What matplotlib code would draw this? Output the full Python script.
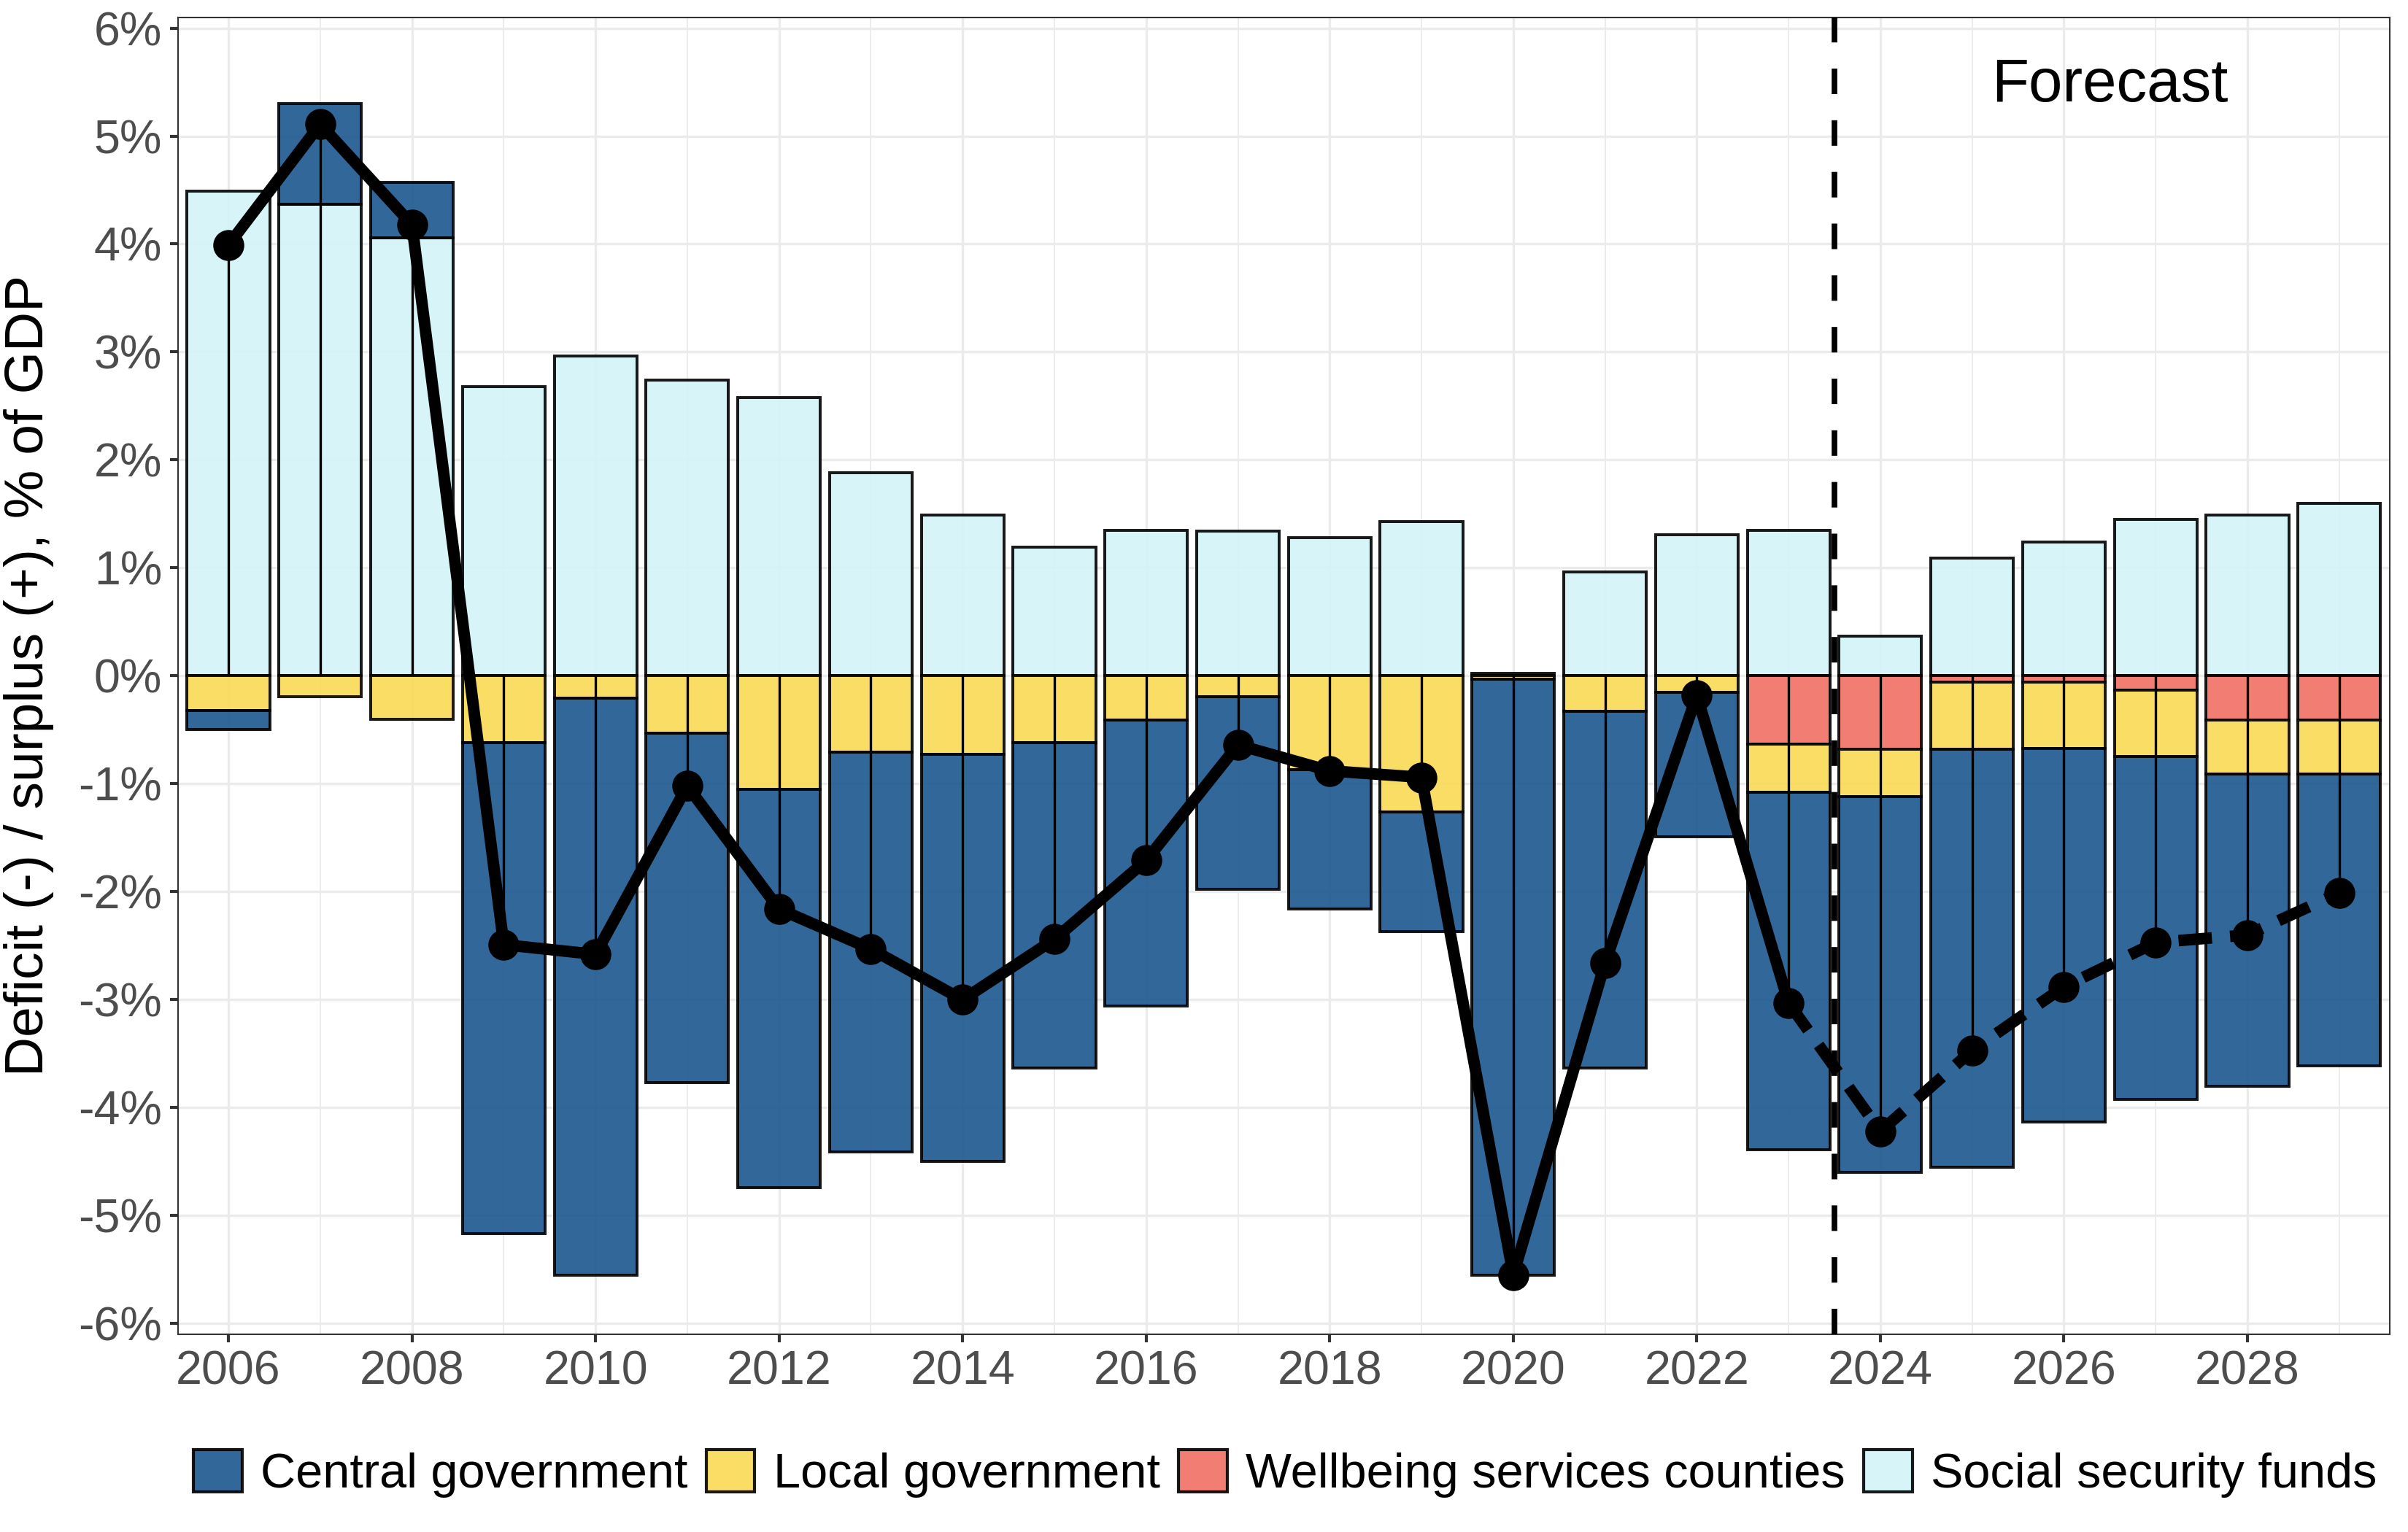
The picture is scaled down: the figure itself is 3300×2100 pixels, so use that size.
import numpy as np
import matplotlib
matplotlib.use("Agg")
import matplotlib.pyplot as plt
from matplotlib.patches import Patch
from matplotlib.ticker import MultipleLocator, FixedLocator

plt.rcParams['font.family'] = ['Liberation Sans', 'DejaVu Sans']
plt.rcParams['lines.scale_dashes'] = False

# data, % of GDP
years = list(range(2006, 2030))
central = [-0.18, 0.93, 0.51, -4.55, -5.34, -3.24, -3.69, -3.70, -3.77, -3.01, -2.65, -1.79,
           -1.29, -1.11, -5.52, -3.30, -1.34, -3.31, -3.48, -3.87, -3.46, -3.17, -2.89, -2.70]
local = [-0.32, -0.19, -0.40, -0.62, -0.21, -0.53, -1.05, -0.71, -0.73, -0.62, -0.41, -0.19,
         -0.87, -1.26, -0.03, -0.33, -0.15, -0.45, -0.44, -0.62, -0.61, -0.62, -0.50, -0.50]
wellbeing = [np.nan] * 17 + [-0.63, -0.68, -0.06, -0.06, -0.13, -0.41, -0.41]
social = [4.49, 4.37, 4.06, 2.68, 2.96, 2.74, 2.58, 1.88, 1.49, 1.19, 1.35, 1.34,
          1.28, 1.43, 0.02, 0.96, 1.31, 1.35, 0.37, 1.09, 1.24, 1.45, 1.49, 1.60]
total = [3.99, 5.11, 4.18, -2.49, -2.58, -1.02, -2.16, -2.53, -3.00, -2.44, -1.71, -0.64,
         -0.88, -0.94, -5.55, -2.66, -0.18, -3.03, -4.22, -3.47, -2.88, -2.47, -2.40, -2.01]
last_actual = 2023

series = ["Central government", "Local government", "Wellbeing services counties", "Social security funds"]
values = {"Central government": central, "Local government": local,
          "Wellbeing services counties": wellbeing, "Social security funds": social}
colors = {"Central government": "#1C578E", "Local government": "#F9DA53",
          "Wellbeing services counties": "#F16F63", "Social security funds": "#D3F4F9"}

fig = plt.figure(figsize=(11, 7), dpi=300)
ax = fig.add_axes([0.0739, 0.129, 0.9185, 0.8597])

# stack like ggplot: last level closest to zero
x = np.array(years, dtype=float)
pos = np.zeros(len(years))
neg = np.zeros(len(years))
for name in reversed(series):
    v = np.array(values[name], dtype=float)
    ok = ~np.isnan(v)
    vv = np.where(ok, v, 0.0)
    bottom = np.where(vv >= 0, pos, neg)
    ax.bar(x[ok], vv[ok], bottom=bottom[ok], width=0.9, color=colors[name], alpha=0.9,
           edgecolor="black", linewidth=0.95, zorder=2)
    pos = pos + np.where(vv > 0, vv, 0)
    neg = neg + np.where(vv < 0, vv, 0)

# thin lines from zero to total
ax.vlines(x, 0, total, color="black", linewidth=0.8, zorder=3)

# forecast divider
ax.axvline(last_actual + 0.5, color="black", linewidth=1.85, dashes=(8.4, 8.6), zorder=4)
ax.text(2026.5, 5.47, "Forecast", fontsize=20, ha="center", va="center", color="black")

# total line
i = years.index(last_actual)
ax.plot(years[:i + 1], total[:i + 1], color="black", linewidth=3.8, solid_joinstyle="round",
        solid_capstyle="round", zorder=5)
ax.plot(years[i:], total[i:], color="black", linewidth=3.8, dashes=(11, 6), zorder=5)
ax.plot(years, total, "o", color="black", markersize=9.2, zorder=6)

ax.set_xlim(2005.45, 2029.55)
ax.set_ylim(-6.1, 6.1)
ax.xaxis.set_major_locator(FixedLocator(list(range(2006, 2030, 2))))
ax.xaxis.set_minor_locator(FixedLocator(list(range(2007, 2030, 2))))
ax.set_yticks(range(-6, 7))
ax.set_yticklabels([f"{v}%" for v in range(-6, 7)])
ax.set_xticklabels([str(y) for y in range(2006, 2030, 2)])

ax.grid(True, which="major", color="#EBEBEB", linewidth=0.8, zorder=0)
ax.grid(True, which="minor", axis="x", color="#EBEBEB", linewidth=0.45, zorder=0)
ax.set_axisbelow(True)
ax.tick_params(which="major", length=2.7, width=1.0, color="#333333", labelsize=15.5,
               labelcolor="#4D4D4D", pad=2.5)
ax.tick_params(which="minor", length=0)
for s in ax.spines.values():
    s.set_color("#333333")
    s.set_linewidth(0.5)

ax.set_ylabel("Deficit (-) / surplus (+), % of GDP", fontsize=18, labelpad=8)

handles = [Patch(facecolor=colors[n], edgecolor="black", linewidth=1.0, alpha=0.9) for n in series]
fig.legend(handles, series, loc="center", bbox_to_anchor=(0.5337, 0.038), ncol=4, frameon=False,
           fontsize=16, handlelength=1.0, handleheight=0.95, handletextpad=0.38,
           columnspacing=0.38, borderaxespad=0)

fig.savefig("out.png", dpi=300)
